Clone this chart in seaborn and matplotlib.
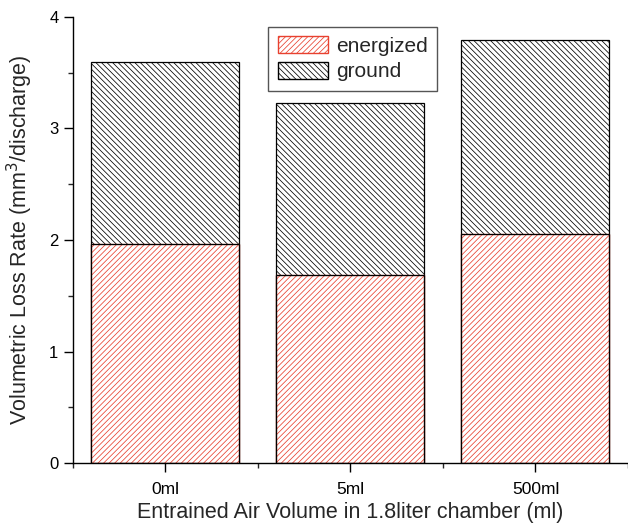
import numpy as np
import pandas as pd
import seaborn as sns
import matplotlib.pyplot as plt
from matplotlib.patches import Patch
from matplotlib.ticker import MultipleLocator

volumes = ['0ml', '5ml', '500ml']
energized = [1.96, 1.69, 2.05]
total = [3.60, 3.23, 3.79]
ground = [t - e for t, e in zip(total, energized)]

df = pd.DataFrame({'volume': volumes, 'energized': energized, 'total': total})

sns.set_style('ticks')
plt.rcParams['font.family'] = ['Liberation Sans', 'DejaVu Sans']
plt.rcParams['hatch.linewidth'] = 0.55
plt.rcParams['xtick.direction'] = 'out'
plt.rcParams['ytick.direction'] = 'out'

fig = plt.figure(figsize=(6.28, 5.27), dpi=100)
ax = fig.add_axes([0.1162, 0.1214, 0.8838, 0.8464])

red = '#e8412f'
# ground sits on top: draw full stack height first, then cover the bottom part
sns.barplot(data=df, x='volume', y='total', color='white', saturation=1, width=0.8,
            edgecolor='black', linewidth=0.9, hatch='\\\\\\\\\\\\', errorbar=None, ax=ax)
sns.barplot(data=df, x='volume', y='energized', color='white', saturation=1, width=0.8,
            edgecolor=red, linewidth=0.9, hatch='//////', errorbar=None, ax=ax)
sns.barplot(data=df, x='volume', y='energized', fill=False, width=0.8,
            edgecolor='black', linewidth=0.9, errorbar=None, ax=ax)

ax.set_xlim(-0.5, 2.5)
ax.set_ylim(0, 4)
ax.set_xticks([-0.5, 0.5, 1.5, 2.5], minor=True)
ax.yaxis.set_major_locator(MultipleLocator(1))
ax.yaxis.set_minor_locator(MultipleLocator(0.5))
ax.tick_params(axis='both', which='major', length=6.5, width=1, labelsize=12, colors='black')
ax.tick_params(axis='x', which='major', labelsize=12.5, pad=7)
ax.tick_params(axis='both', which='minor', length=3.5, width=1)
ax.tick_params(axis='y', which='major', pad=4)

sns.despine(ax=ax)
for side in ['left', 'bottom']:
    ax.spines[side].set_linewidth(1.0)
    ax.spines[side].set_color('black')

ax.set_xlabel('Entrained Air Volume in 1.8liter chamber (ml)', fontsize=15.5, labelpad=4)
ax.set_ylabel('Volumetric Loss Rate (mm$^3$/discharge)', fontsize=15.5, labelpad=10)

handles = [Patch(facecolor='white', edgecolor=red, hatch='//////', label='energized'),
           Patch(facecolor='white', edgecolor='black', hatch='\\\\\\\\\\\\', label='ground')]
leg = ax.legend(handles=handles, loc='upper left', bbox_to_anchor=(0.352, 0.978),
                borderaxespad=0, fontsize=15, fancybox=False, framealpha=1,
                edgecolor='#555555', handlelength=2.4, handleheight=0.85,
                handletextpad=0.4, labelspacing=0.3, borderpad=0.45)
leg.get_frame().set_linewidth(1.0)

fig.savefig('out.png', dpi=100)
